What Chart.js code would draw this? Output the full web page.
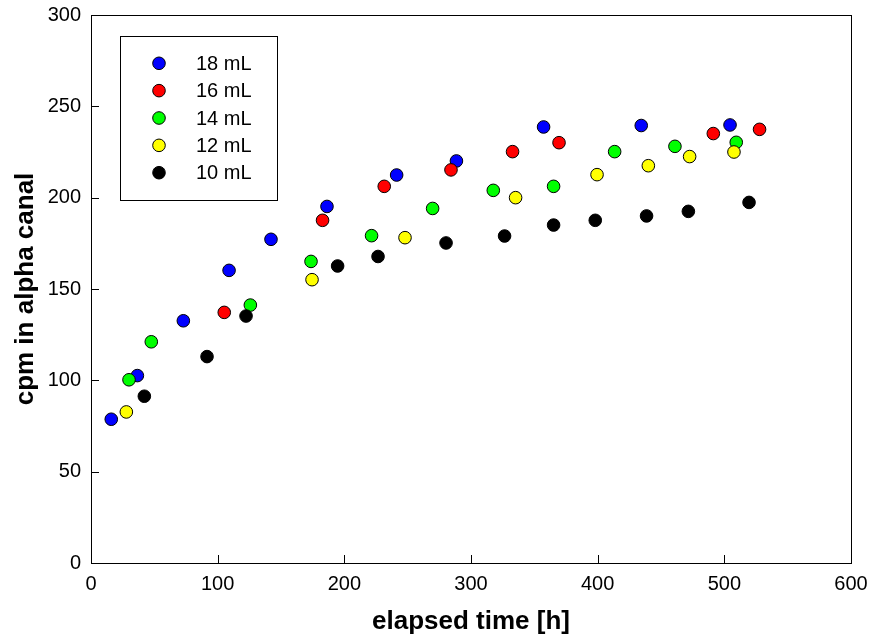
<!DOCTYPE html>
<html>
<head>
<meta charset="utf-8">
<script src="https://cdn.jsdelivr.net/npm/chart.js@4"></script>
<style>
  html, body { margin: 0; padding: 0; background: #fff; }
  #wrap { width: 872px; height: 639px; }
</style>
</head>
<body>
<div id="wrap"><canvas id="cpmChart" width="872" height="639"></canvas></div>
<script>
// values
const seriesLabels = ['18 mL', '16 mL', '14 mL', '12 mL', '10 mL'];
const seriesColors = ['#0000ff', '#ff0000', '#00ff00', '#ffff00', '#000000'];

const time18 = [16, 36.6, 72.9, 109, 142.1, 186.3, 241.3, 288.5, 357.3, 434.4, 504.5];
const cpm18  = [78.7, 102.6, 132.6, 160.2, 177.2, 195.2, 212.4, 220.1, 238.7, 239.5, 239.8];

const time16 = [105.2, 182.8, 231.5, 284.2, 332.8, 369.5, 491.3, 527.8];
const cpm16  = [137.2, 187.6, 206.2, 215.2, 225.2, 230.1, 235.1, 237.4];

const time14 = [30, 47.6, 125.8, 173.7, 221.5, 269.7, 317.6, 365.2, 413.4, 461, 509.4];
const cpm14  = [100.3, 121.1, 141.2, 165.1, 179.2, 194.1, 204, 206.2, 225.2, 228.1, 230.3];

const time12 = [27.9, 174.5, 247.9, 335.2, 399.5, 440, 472.6, 507.6];
const cpm12  = [82.7, 155.1, 178.1, 200, 212.6, 217.5, 222.5, 225];

const time10 = [42.1, 91.6, 122.4, 194.7, 226.6, 280.3, 326.5, 365.2, 398.1, 438.6, 471.6, 519.5];
const cpm10  = [91.3, 113, 135.2, 162.6, 167.8, 175.2, 179, 185, 187.6, 190, 192.5, 197.4];

const xTicks = [0, 100, 200, 300, 400, 500, 600];
const yTicks = [0, 50, 100, 150, 200, 250, 300];

const allTimes = [time18, time16, time14, time12, time10];
const allCpm = [cpm18, cpm16, cpm14, cpm12, cpm10];

const FONT = "'Liberation Sans', Arial, sans-serif";

function toPoints(xs, ys) {
    return xs.map((x, i) => ({ x: x, y: ys[i] }));
}

const datasets = seriesLabels.map((label, i) => ({
    label: label,
    data: toPoints(allTimes[i], allCpm[i]),
    backgroundColor: seriesColors[i],
    borderColor: '#000',
    borderWidth: 1,
    pointRadius: 6.3,
    pointHoverRadius: 6.3,
    order: seriesLabels.length - i   // last series drawn on top
}));

// frame, inward ticks and boxed legend
const framePlugin = {
    id: 'frame',
    afterDraw(chart) {
        const ctx = chart.ctx;
        const a = chart.chartArea;
        const xs = chart.scales.x, ys = chart.scales.y;
        ctx.save();
        ctx.strokeStyle = '#000';
        ctx.lineWidth = 1;
        ctx.strokeRect(Math.round(a.left) + 0.5, Math.round(a.top) + 0.5,
            Math.round(a.right - a.left), Math.round(a.bottom - a.top));

        ctx.beginPath();
        xTicks.forEach(v => {
            const px = Math.round(xs.getPixelForValue(v)) + 0.5;
            ctx.moveTo(px, a.bottom);
            ctx.lineTo(px, a.bottom - 8);
        });
        yTicks.forEach(v => {
            const py = Math.round(ys.getPixelForValue(v)) + 0.5;
            ctx.moveTo(a.left, py);
            ctx.lineTo(a.left + 8, py);
        });
        ctx.stroke();

        // legend
        ctx.strokeRect(120.5, 36.5, 157, 164);
        ctx.font = '20px ' + FONT;
        ctx.textBaseline = 'middle';
        ctx.textAlign = 'left';
        chart.data.datasets.forEach((ds, i) => {
            const cy = 63.3 + i * 27.35;
            ctx.beginPath();
            ctx.arc(159, cy, 6.3, 0, Math.PI * 2);
            ctx.fillStyle = ds.backgroundColor;
            ctx.fill();
            ctx.stroke();
            ctx.fillStyle = '#000';
            ctx.fillText(ds.label, 196, cy + 1);
        });
        ctx.restore();
    }
};

const ctx = document.getElementById('cpmChart');

new Chart(ctx, {
    type: 'scatter',
    data: { datasets: datasets },
    options: {
        responsive: false,
        animation: false,
        layout: { padding: { left: 0, right: 21, top: 15, bottom: 0 } },
        plugins: {
            legend: { display: false },
            tooltip: { enabled: false }
        },
        scales: {
            x: {
                type: 'linear',
                min: 0,
                max: 600,
                afterBuildTicks: (scale) => { scale.ticks = xTicks.map(v => ({ value: v })); },
                afterFit: (scale) => {
                    scale.height = 76;
                    scale.paddingLeft = 0;
                    scale.paddingRight = 0;
                },
                grid: { display: false, drawTicks: false },
                border: { display: false },
                ticks: {
                    padding: 9,
                    color: '#000',
                    font: { family: FONT, size: 20 },
                    maxRotation: 0
                },
                title: {
                    display: true,
                    text: 'elapsed time [h]',
                    color: '#000',
                    font: { family: FONT, size: 26, weight: 'bold' },
                    padding: { top: 0, bottom: 2 }
                }
            },
            y: {
                type: 'linear',
                min: 0,
                max: 300,
                afterBuildTicks: (scale) => { scale.ticks = yTicks.map(v => ({ value: v })); },
                afterFit: (scale) => {
                    scale.width = 91;
                    scale.paddingTop = 0;
                    scale.paddingBottom = 0;
                },
                grid: { display: false, drawTicks: false },
                border: { display: false },
                ticks: {
                    padding: 10,
                    color: '#000',
                    font: { family: FONT, size: 20 }
                },
                title: {
                    display: true,
                    text: 'cpm in alpha canal',
                    color: '#000',
                    font: { family: FONT, size: 26, weight: 'bold' },
                    padding: { top: 10, bottom: 0 }
                }
            }
        }
    },
    plugins: [framePlugin]
});
</script>
</body>
</html>
